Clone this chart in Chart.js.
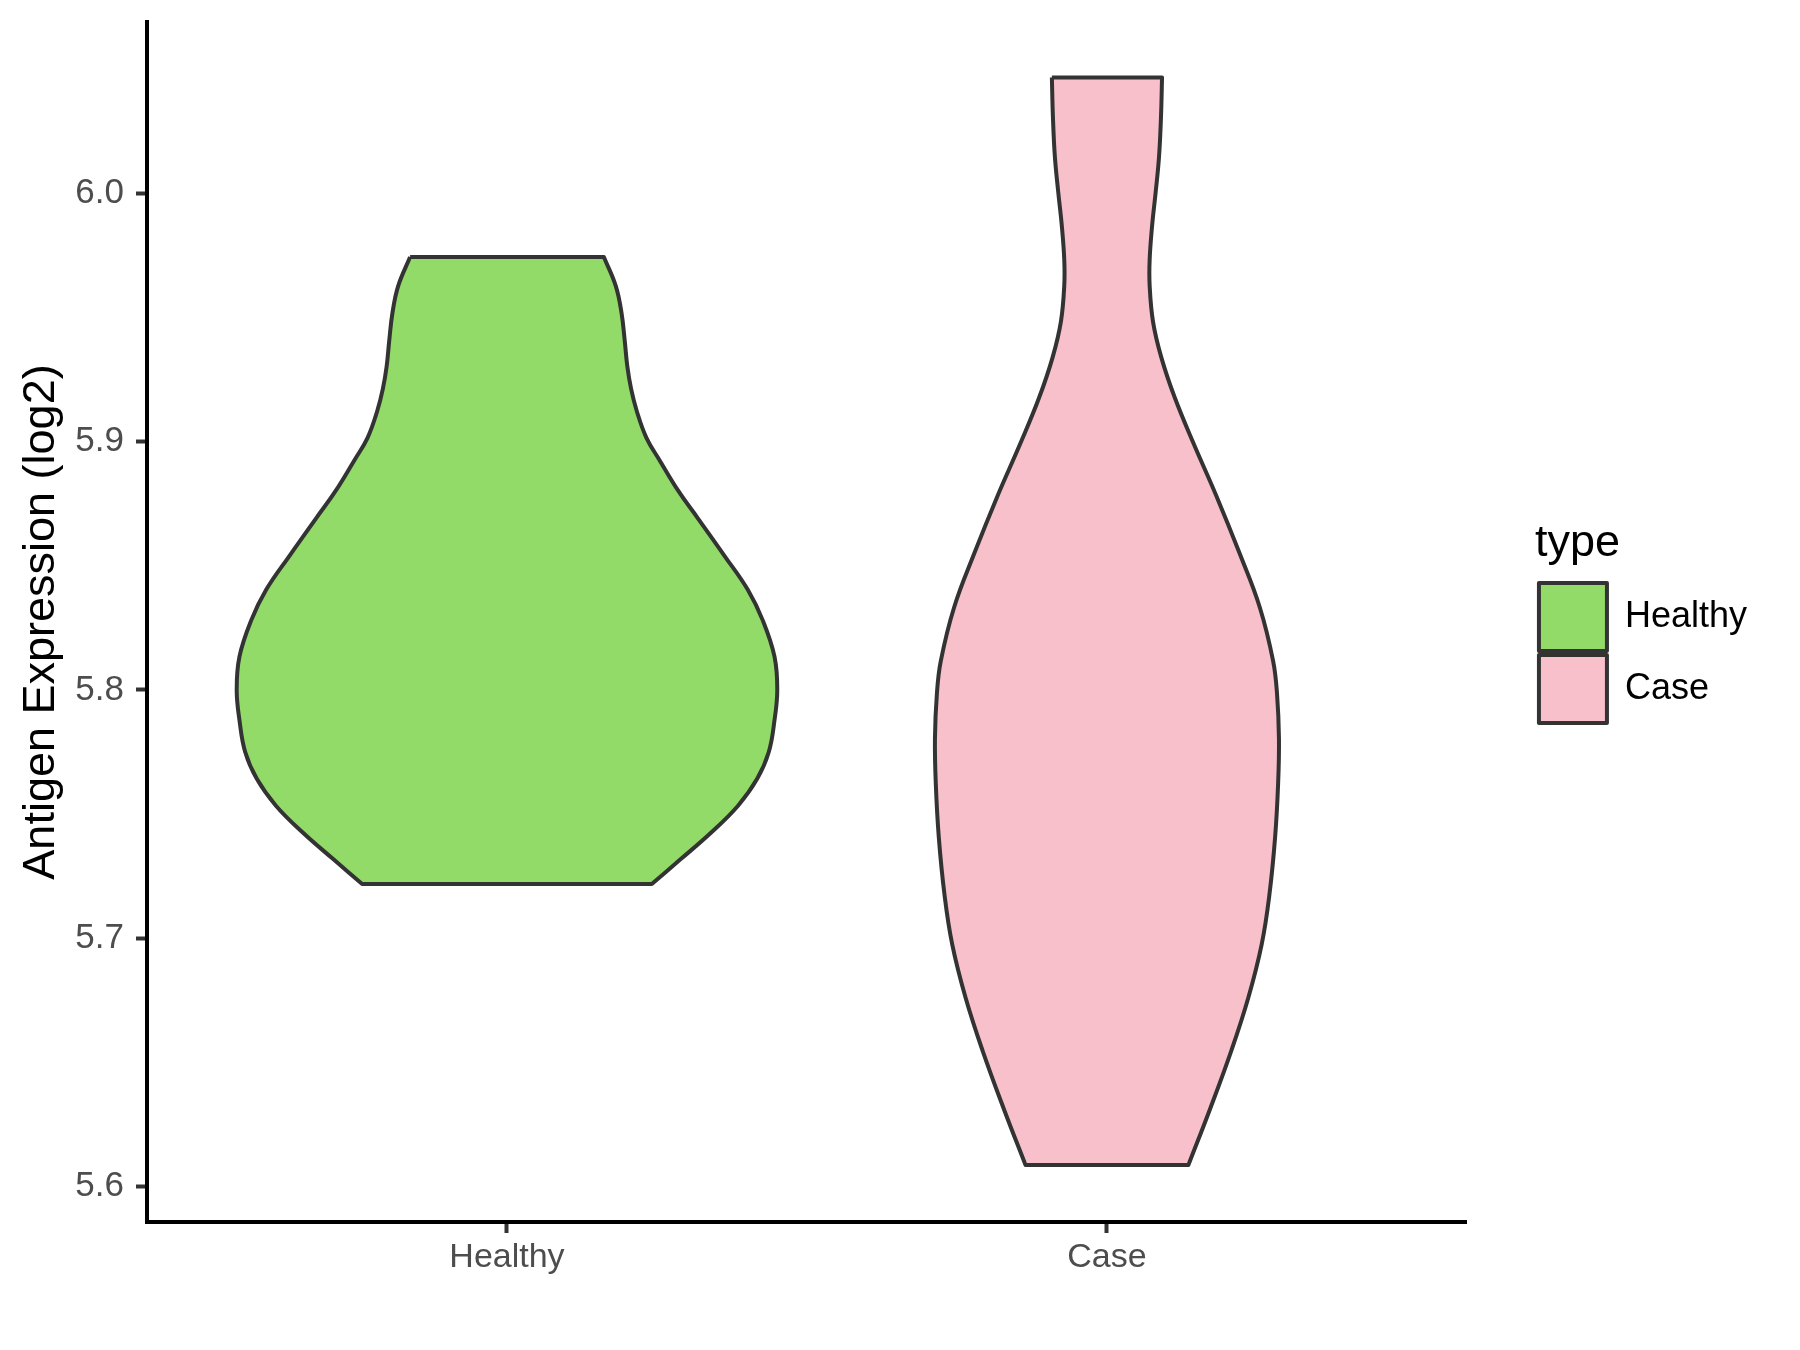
<!DOCTYPE html>
<html>
<head>
<meta charset="utf-8">
<script src="https://cdn.jsdelivr.net/npm/chart.js@4.4.0/dist/chart.umd.min.js"></script>
<style>
  html, body { margin: 0; padding: 0; background: #fff; }
</style>
</head>
<body>
<canvas id="chartViolin" width="1800" height="1350"></canvas>
<script>
// categories et positions sur l'axe x
const categories = ["Healthy", "Case"];
const categoryPos = [1, 2];
const yTicks = [5.6, 5.7, 5.8, 5.9, 6.0];

// profils des violons : niveau (log2) et demi-largeur (unités de catégorie)
const healthyLevels = [5.9743, 5.9626, 5.9518, 5.9410, 5.9302, 5.9212, 5.9122, 5.9015, 5.8925, 5.8799,
  5.8691, 5.8539, 5.8404, 5.8278, 5.8134, 5.8000, 5.7875, 5.7749, 5.7642, 5.7534, 5.7426, 5.7318, 5.7219];
const healthyHalfWidth = [0.1615, 0.1814, 0.1909, 0.1961, 0.2006, 0.2069, 0.2164, 0.2324, 0.2543, 0.2862,
  0.3182, 0.3628, 0.4012, 0.4267, 0.4459, 0.4505, 0.4457, 0.4362, 0.4170, 0.3851, 0.3404, 0.2892, 0.2414];

const caseLevels = [6.0466, 6.0309, 6.0147, 6.0004, 5.9878, 5.9734, 5.9626, 5.9482, 5.9339, 5.9177, 5.8997,
  5.8781, 5.8548, 5.8332, 5.8116, 5.7983, 5.7803, 5.7624, 5.7408, 5.7174, 5.6977, 5.6761, 5.6545, 5.6312, 5.6087];
const caseHalfWidth = [0.0918, 0.0901, 0.0868, 0.0812, 0.0756, 0.0712, 0.0712, 0.0768, 0.0906, 0.1130, 0.1435,
  0.1824, 0.2214, 0.2548, 0.2770, 0.2835, 0.2867, 0.2853, 0.2803, 0.2707, 0.2580, 0.2356, 0.2069, 0.1717, 0.1357];

const Y_MIN = 5.5858;
const Y_MAX = 6.0689;

Chart.defaults.font.family = "'Liberation Sans', Arial, sans-serif";

// contour fermé : côté gauche de haut en bas, puis côté droit de bas en haut.
// Les coins sont doublés pour que la courbe reste anguleuse aux bords plats.
function violinOutline(center, levels, halfWidth) {
  const left = levels.map((v, i) => ({ x: center - halfWidth[i], y: v }));
  const right = levels.map((v, i) => ({ x: center + halfWidth[i], y: v })).reverse();
  const n = left.length;
  return [left[0], left[0], ...left.slice(1, n - 1), left[n - 1], left[n - 1],
    right[0], right[0], ...right.slice(1, n - 1), right[n - 1], right[n - 1], left[0], left[0]];
}

// pas de marge automatique autour des axes
function noPadding(s) {
  s.paddingTop = 0;
  s.paddingBottom = 0;
  s.paddingLeft = 0;
  s.paddingRight = 0;
}

const ctx = document.getElementById("chartViolin").getContext("2d");

new Chart(ctx, {
  type: "scatter",
  data: {
    datasets: [
      {
        label: categories[0],
        data: violinOutline(categoryPos[0], healthyLevels, healthyHalfWidth),
        showLine: true,
        fill: "shape",
        backgroundColor: "#93DB69",
        borderColor: "#333333",
        borderWidth: 4,
        borderJoinStyle: "round",
        pointRadius: 0,
        tension: 0.4
      },
      {
        label: categories[1],
        data: violinOutline(categoryPos[1], caseLevels, caseHalfWidth),
        showLine: true,
        fill: "shape",
        backgroundColor: "#F7C0CB",
        borderColor: "#333333",
        borderWidth: 4,
        borderJoinStyle: "round",
        pointRadius: 0,
        tension: 0.4
      }
    ]
  },
  options: {
    responsive: false,
    animation: false,
    events: [],
    layout: { padding: { top: 22, right: 43, bottom: 0, left: 0 } },
    plugins: {
      tooltip: { enabled: false },
      legend: {
        position: "right",
        align: "center",
        fullSize: false,
        title: { display: true, text: "type", position: "start", color: "#000", font: { size: 45 }, padding: 4 },
        labels: { boxWidth: 68, boxHeight: 68, padding: 4, color: "#000", font: { size: 36 } }
      }
    },
    scales: {
      x: {
        type: "linear",
        min: 0.4,
        max: 2.6,
        afterBuildTicks: s => { s.ticks = categoryPos.map(v => ({ value: v })); },
        ticks: {
          callback: v => categories[categoryPos.indexOf(v)],
          color: "#4D4D4D",
          font: { size: 34 },
          padding: 4,
          maxRotation: 0,
          autoSkip: false
        },
        grid: { drawOnChartArea: false, tickLength: 11, tickColor: "#333333", tickWidth: 4 },
        border: { display: true, color: "#000", width: 4 },
        afterFit: s => { s.height = 128; noPadding(s); }
      },
      y: {
        type: "linear",
        position: "left",
        min: Y_MIN,
        max: Y_MAX,
        afterBuildTicks: s => { s.ticks = yTicks.map(v => ({ value: v })); },
        ticks: {
          callback: v => v.toFixed(1),
          color: "#4D4D4D",
          font: { size: 35 },
          padding: 12
        },
        grid: { drawOnChartArea: false, tickLength: 11, tickColor: "#333333", tickWidth: 4 },
        border: { display: true, color: "#000", width: 4 },
        title: {
          display: true,
          text: "Antigen Expression (log2)",
          color: "#000",
          font: { size: 45 },
          padding: { top: 15, bottom: 0 }
        },
        afterFit: s => { s.width = 147; noPadding(s); }
      },
      // espace vide entre le panneau et la légende
      gap: {
        type: "linear",
        position: "right",
        display: true,
        grid: { display: false },
        border: { display: false },
        ticks: { display: false },
        afterFit: s => { s.width = 68; noPadding(s); }
      }
    }
  }
});
</script>
</body>
</html>
